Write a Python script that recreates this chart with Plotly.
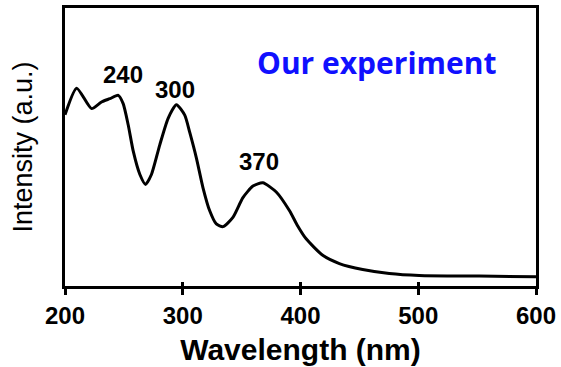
import plotly.graph_objects as go

wavelength = [200, 209.9, 222.6, 231, 238, 245.2, 249.4, 253.7, 258, 263.6, 268.4,
              273.4, 280.5, 287.5, 294.6, 301.7, 306, 311.6, 317.2, 322.9, 328.5,
              334.2, 342.6, 351.1, 359.6, 368, 379.4, 390.7, 397, 404.8, 418.9,
              433, 452.8, 475.4, 500.8, 551.7, 600]
intensity = [173, 200, 179.3, 186, 189.3, 192.7, 184.3, 162.7, 136, 112.7, 102.7,
             112.7, 142.7, 169.3, 183.3, 172.7, 155, 129.3, 99.3, 76, 62.7,
             60, 69.3, 89.3, 101, 104.3, 95, 76, 62, 47.7, 31,
             22.7, 16.7, 12.7, 10.7, 10, 9.3]
tick_vals = [200, 300, 400, 500, 600]
tick_text = ["200", "300", "400", "500", "600"]
peak_labels = ["240", "300", "370"]
peak_x = [249, 293, 365]
peak_y = [214, 199, 126]

fig = go.Figure()
fig.add_trace(go.Scatter(x=wavelength, y=intensity, mode="lines",
                         line=dict(color="black", width=3, shape="spline", smoothing=0.6),
                         showlegend=False, hoverinfo="skip"))
# invisible trace for secondary x-axis (inside ticks)
fig.add_trace(go.Scatter(x=[200, 600], y=[None, None], xaxis="x2", showlegend=False,
                         hoverinfo="skip"))

fig.update_layout(
    width=561, height=367,
    margin=dict(l=65, r=24, t=5, b=81),
    paper_bgcolor="white", plot_bgcolor="white",
    font=dict(family="Liberation Sans, Arial, sans-serif", color="black"),
    xaxis=dict(range=[200, 600], tickvals=tick_vals, ticktext=tick_text,
               ticks="outside", ticklen=6, tickwidth=2.5, tickcolor="black",
               showline=True, linewidth=3, linecolor="black", mirror=True,
               showgrid=False, zeroline=False,
               tickfont=dict(size=24, family="Liberation Sans, Arial", color="black", weight="bold"),
               title=dict(text="<b>Wavelength (nm)</b>", font=dict(size=30), standoff=12)),
    xaxis2=dict(range=[200, 600], overlaying="x", side="bottom", tickvals=tick_vals,
                ticks="inside", ticklen=4, tickwidth=2.5, tickcolor="black",
                showticklabels=False, showline=False, showgrid=False, zeroline=False),
    yaxis=dict(range=[0, 281], showticklabels=False, ticks="",
               showline=True, linewidth=3, linecolor="black", mirror=True,
               showgrid=False, zeroline=False,
               title=dict(text="Intensity (a.u.)", font=dict(size=27), standoff=22)),
)

for t, x, y in zip(peak_labels, peak_x, peak_y):
    fig.add_annotation(x=x, y=y, text="<b>" + t + "</b>", showarrow=False,
                       font=dict(size=24, color="black"))

fig.add_annotation(x=465, y=226, text="<b>Our experiment</b>", showarrow=False,
                   font=dict(size=30, color="#1010ff", family="Open Sans, sans-serif"))

fig.write_html("out.html")
